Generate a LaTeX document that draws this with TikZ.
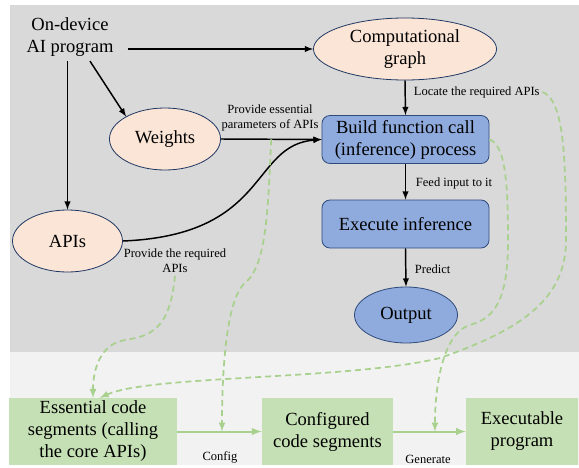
\documentclass[tikz,border=0pt]{standalone}
\usepackage{fontspec}
\setmainfont{Liberation Serif}
\newfontfamily\diagfont{Liberation Serif}
\usetikzlibrary{shapes.geometric}

\definecolor{panelGray}{HTML}{D9D9D9}
\definecolor{panelLight}{HTML}{F2F2F2}
\definecolor{ovalFill}{HTML}{FBE5D6}
\definecolor{ovalLine}{HTML}{203864}
\definecolor{stepFill}{HTML}{8FAADC}
\definecolor{stepLine}{HTML}{2F4B7C}
\definecolor{codeFill}{HTML}{C5E0B4}
\definecolor{flowGreen}{HTML}{A9D18E}

\newcommand{\bigtxt}{\diagfont\fontsize{13.9}{16.5}\selectfont}
\newcommand{\smalltxt}{\diagfont\fontsize{9.4}{11.2}\selectfont}

\begin{document}
\begin{tikzpicture}[x=0.75pt,y=0.75pt,yscale=-1,xscale=1,
  oval/.style={ellipse,draw=ovalLine,line width=0.6pt,fill=ovalFill,inner sep=0pt,align=center,font=\bigtxt},
  stepbox/.style={rectangle,rounded corners=6pt,draw=stepLine,line width=0.6pt,fill=stepFill,minimum width=125.3pt,minimum height=36pt,align=center,font=\bigtxt},
  codebox/.style={rectangle,fill=codeFill,minimum height=50pt,inner sep=0pt,align=center,font=\bigtxt},
  lbl/.style={inner sep=2pt,align=center,font=\smalltxt},
  flow/.style={line width=1.1pt,-latex},
  gflow/.style={draw=flowGreen,line width=1.5pt,-latex},
  gdash/.style={draw=flowGreen,line width=1.3pt,dash pattern=on 4.5pt off 3pt,-latex}]
        \useasboundingbox (0,0) rectangle (579,468);

        %Shape: Rectangle (upper panel)
        \fill[panelGray] (10,5) rectangle (579,352);
        %Shape: Rectangle (lower panel)
        \fill[panelLight] (10,352) rectangle (579,465);

        % Text Node
        \node[align=center,font=\bigtxt] (prog) at (70,37) {On-device\\AI program};
        %Shape: Ellipse
        \node[oval,minimum width=137.3pt,minimum height=46.5pt] (graph) at (405,49) {Computational\\graph};
        %Shape: Ellipse
        \node[oval,minimum width=83.3pt,minimum height=46.5pt] (weights) at (165,139) {Weights};
        %Shape: Ellipse
        \node[oval,minimum width=82.5pt,minimum height=46.5pt] (apis) at (67.5,241) {APIs};
        %Shape: Rounded Rectangle
        \node[stepbox] (build) at (405.5,139.5) {Build function call\\(inference) process};
        %Shape: Rounded Rectangle
        \node[stepbox] (execute) at (405.5,224) {Execute inference};
        %Shape: Ellipse
        \node[oval,fill=stepFill,draw=stepLine,minimum width=77.3pt,minimum height=42pt] (output) at (406,315) {Output};

        %Shape: Rectangle
        \node[codebox,minimum width=126pt] (essential) at (93,431.5) {Essential code\\segments (calling\\the core APIs)};
        %Shape: Rectangle
        \node[codebox,minimum width=98.3pt] (configured) at (327.5,431.5) {Configured\\code segments};
        %Shape: Rectangle
        \node[codebox,minimum width=84pt] (executable) at (522,431.5) {Executable\\program};

        %Straight Lines
        \draw[flow] ([xshift=7pt]prog.east |- graph.west) -- (graph.west);
        \draw[flow] ([xshift=15pt]prog.south) -- (weights.150);
        \draw[flow] (apis.north |- prog.south) -- (apis.north);
        \draw[flow] (weights.east) -- (build.west) coordinate[pos=0.5] (wmid);
        %Curve Lines
        \draw[flow] (apis.east) .. controls (270,235) and (250,145) .. (build.west);
        %Straight Lines
        \draw[flow] (graph.south) -- (build.north);
        \draw[flow] (build.south) -- (execute.north);
        \draw[flow] (execute.south) -- (output.north);

        %Straight Lines (green)
        \draw[gflow] (essential.east) -- (configured.west) coordinate[pos=0.53] (cfgpt);
        \draw[gflow] (configured.east) -- (executable.west) coordinate[pos=0.575] (genpt);

        % Text Node
        \node[lbl] (paramlbl) at (270,118) {Provide essential\\parameters of APIs};
        % Text Node
        \node[lbl] (apilbl) at (175,261) {Provide the required\\APIs};
        % Text Node
        \node[lbl,anchor=west] (locatelbl) at (411,92) {Locate the required APIs};
        % Text Node
        \node[lbl,anchor=west] (feedlbl) at (413,183) {Feed input to it};
        % Text Node
        \node[lbl,anchor=west] (predictlbl) at (412,269) {Predict};
        % Text Node
        \node[lbl] (configlbl) at (220,457) {Config};
        % Text Node
        \node[lbl] (generatelbl) at (428,459) {Generate};

        %Curve Lines (dashed)
        \draw[gdash] (apilbl.south) .. controls (170,330) and (150,336) .. (125,340) .. controls (100,344) and (93,370) .. (essential.north);
        \draw[gdash] (wmid) .. controls (268,200) and (268,265) .. (245,283) .. controls (225,300) and (222,380) .. (cfgpt);
        \draw[gdash] (build.east) .. controls (505,145) and (508,180) .. (508,240) .. controls (508,300) and (495,318) .. (470,325) .. controls (445,332) and (435,380) .. (genpt);
        \draw[gdash] (locatelbl.east) .. controls (563,100) and (566,150) .. (566,240) .. controls (566,300) and (520,330) .. (440,358) .. controls (350,380) and (150,375) .. ([xshift=5pt]essential.north);
        \end{tikzpicture}
\end{document}
